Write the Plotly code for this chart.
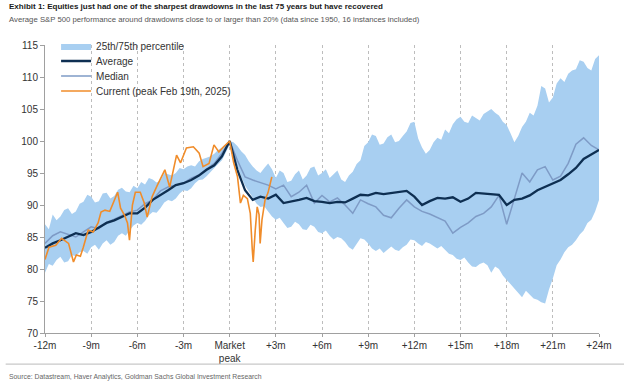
import plotly.graph_objects as go

# ---------------- data ----------------
months = [-12 + 0.5 * i for i in range(73)]          # half-month grid, -12m .. +24m
band_months = [-12 + 0.25 * i for i in range(145)]   # quarter-month grid for the band

band_upper = [
    87.0, 86.2, 88.5, 87.6,   # -12
    88.2, 89.2, 89.5, 88.6,   # -11
    89.0, 90.2, 90.5, 91.6,   # -10
    91.3, 90.4, 90.6, 91.8,   # -9
    91.9, 91.0, 91.4, 92.4,   # -8
    92.7, 92.1, 92.0, 93.0,   # -7
    92.6, 93.6, 93.2, 94.2,   # -6
    94.0, 93.5, 93.8, 95.0,   # -5
    94.8, 94.6, 95.0, 95.8,   # -4
    95.6, 96.0, 96.2, 96.0,   # -3
    96.8, 97.2, 97.4, 97.6,   # -2
    98.0, 98.6, 99.0, 99.5,   # -1
    100.0, 99.8, 99.2, 98.4,  # 0
    97.8, 96.8, 96.0, 95.4,   # 1
    95.0, 95.8, 96.5, 95.6,   # 2
    94.2, 95.4, 95.0, 93.6,   # 3
    93.8, 94.8, 95.4, 94.0,   # 4
    94.6, 95.8, 96.0, 94.6,   # 5
    95.0, 95.6, 94.2, 94.8,   # 6
    95.4, 94.0, 93.6, 94.6,   # 7
    95.2, 96.4, 97.0, 99.2,   # 8
    99.8, 101.0, 100.8, 99.4, # 9
    99.6, 100.6, 101.0, 99.8, # 10
    100.0, 100.8, 101.5, 102.8,  # 11
    103.0, 100.4, 99.0, 98.0,    # 12
    98.6, 99.8, 100.5, 100.2,    # 13
    101.8, 101.2, 102.6, 103.4,  # 14
    103.8, 103.0, 102.8, 104.0,  # 15
    103.6, 103.2, 104.2, 104.6,  # 16
    105.0, 104.4, 104.0, 103.0,  # 17
    102.5, 101.2, 99.8, 100.8,   # 18
    102.2, 103.0, 104.4, 104.0,  # 19
    105.5, 108.6, 108.2, 106.0,  # 20
    106.8, 109.0, 109.8, 109.2,  # 21
    110.5, 111.0, 111.2, 112.6,  # 22
    112.4, 111.4, 111.0, 112.8,  # 23
    113.4,                       # 24
]

band_lower = [
    79.4, 80.8, 80.5, 81.4,   # -12
    81.9, 81.0, 81.2, 82.2,   # -11
    82.0, 82.6, 82.8, 82.4,   # -10
    83.4, 83.8, 83.0, 84.0,   # -9
    84.5, 83.8, 84.2, 85.2,   # -8
    85.6, 85.2, 86.0, 86.8,   # -7
    87.2, 86.9, 87.5, 88.4,   # -6
    88.9, 88.8, 89.5, 90.4,   # -5
    90.8, 90.6, 91.0, 91.8,   # -4
    92.3, 92.2, 92.6, 93.4,   # -3
    93.9, 94.0, 94.5, 95.2,   # -2
    95.8, 96.4, 97.0, 98.2,   # -1
    99.5, 97.8, 96.0, 94.4,   # 0
    93.0, 92.0, 91.0, 90.2,   # 1
    89.7, 89.8, 89.0, 88.2,   # 2
    87.7, 88.0, 87.2, 86.4,   # 3
    86.6, 87.4, 87.0, 86.2,   # 4
    86.1, 86.9, 86.6, 85.8,   # 5
    85.6, 86.0, 85.2, 84.6,   # 6
    85.0, 84.8, 84.2, 83.4,   # 7
    83.0, 84.0, 84.8, 84.6,   # 8
    84.0, 83.2, 82.8, 83.2,   # 9
    82.5, 83.0, 83.5, 83.0,   # 10
    82.8, 83.4, 83.8, 84.6,   # 11
    84.5, 84.0, 83.6, 84.2,   # 12
    84.0, 83.6, 83.2, 83.6,   # 13
    83.0, 82.4, 82.2, 81.6,   # 14
    81.4, 81.8, 81.0, 80.4,   # 15
    80.3, 80.8, 81.0, 80.6,   # 16
    79.4, 80.4, 80.0, 79.0,   # 17
    78.3, 77.6, 77.0, 76.2,   # 18
    75.6, 76.6, 76.0, 75.4,   # 19
    75.2, 74.8, 74.6, 76.8,   # 20
    78.5, 80.6, 81.5, 82.6,   # 21
    83.4, 83.8, 84.5, 85.4,   # 22
    86.0, 87.2, 87.7, 89.0,   # 23
    90.8,                     # 24
]

average = [83.3, 84.0, 84.5, 85.0, 85.6, 85.3, 85.8, 86.5, 87.2, 87.6, 88.1, 88.7,
           88.7, 89.6, 90.8, 91.5, 92.3, 93.1, 93.4, 93.9, 94.6, 95.5, 96.2, 97.6,
           100.0, 95.5, 92.3, 90.8, 91.3, 91.0, 91.6, 90.3, 90.5, 90.8, 91.1, 90.6,
           90.5, 90.3, 90.5, 90.4, 91.0, 91.6, 91.5, 91.9, 91.7, 91.9, 92.0, 92.2,
           91.3, 90.0, 90.6, 91.1, 91.0, 91.2, 90.5, 91.0, 91.9, 91.8, 91.7, 91.6,
           90.0, 90.8, 91.0, 91.5, 92.3, 92.8, 93.3, 93.9, 94.8, 95.8, 97.2, 97.9,
           98.6]

median = [84.0, 85.2, 85.8, 85.4, 85.0, 85.8, 86.6, 86.3, 87.3, 87.8, 88.4, 88.9,
          89.2, 90.2, 90.8, 92.2, 92.8, 93.1, 93.4, 94.2, 94.7, 95.6, 96.5, 98.1,
          100.0, 97.0, 94.4, 93.9, 93.5, 93.1, 92.5, 93.1, 91.3, 92.0, 93.1, 90.3,
          91.5, 90.5, 91.1, 90.0, 88.7, 90.8, 90.2, 89.7, 88.4, 88.0, 89.5, 90.8,
          89.7, 89.0, 88.6, 88.0, 87.5, 85.6, 86.5, 87.2, 88.2, 88.7, 89.7, 91.5,
          87.0, 91.0, 95.0, 93.6, 95.5, 96.0, 93.9, 94.5, 96.5, 99.5, 100.5, 99.3,
          98.6]

current_months = [-12.0, -11.74, -11.3, -10.92, -10.47, -10.28, -10.15, -9.96, -9.7, -9.51,
                  -9.19, -8.87, -8.55, -8.36, -8.1, -7.79, -7.47, -7.28, -7.09, -6.83,
                  -6.64, -6.51, -6.32, -6.13, -5.81, -5.55, -5.36, -5.04, -4.72, -4.4,
                  -4.21, -3.9, -3.7, -3.45, -3.19, -2.81, -2.36, -1.98, -1.73, -1.34,
                  -1.02, -0.7, -0.39, 0.0, 0.26, 0.51, 0.7, 0.89, 1.15, 1.34,
                  1.47, 1.53, 1.66, 1.79, 1.91, 1.98, 2.1, 2.3, 2.49, 2.74]
current = [81.5, 83.4, 83.7, 84.8, 84.0, 82.5, 81.1, 82.2, 82.0, 83.4,
           86.1, 85.8, 87.2, 88.9, 89.2, 89.0, 90.8, 92.0, 89.5, 88.4,
           87.2, 84.5, 90.0, 92.0, 92.0, 90.3, 88.1, 91.3, 93.0, 94.7,
           95.5, 92.8, 95.0, 97.8, 96.6, 98.9, 99.1, 98.1, 96.0, 96.5,
           99.4, 98.3, 99.1, 100.0, 96.6, 94.4, 90.3, 91.5, 91.0, 88.7,
           83.0, 81.1, 86.0, 89.7, 88.5, 84.0, 87.7, 90.8, 91.9, 94.4]

tick_vals = [-12, -9, -6, -3, 0, 3, 6, 9, 12, 15, 18, 21, 24]
tick_text = ["-12m", "-9m", "-6m", "-3m", "Market<br>peak", "+3m", "+6m", "+9m",
             "+12m", "+15m", "+18m", "+21m", "+24m"]

# ---------------- figure ----------------
BAND = "#A8CFF1"
AVG = "#0E2F52"
MED = "#7E9BC6"
CUR = "#F08C2A"

fig = go.Figure()
fig.add_trace(go.Scatter(x=band_months, y=band_lower, mode="lines",
                         line=dict(width=0, color=BAND), showlegend=False, hoverinfo="skip"))
fig.add_trace(go.Scatter(x=band_months, y=band_upper, mode="lines",
                         line=dict(width=0, color=BAND), fill="tonexty", fillcolor=BAND,
                         name="25th/75th percentile", legend="legend"))
fig.add_trace(go.Scatter(x=months, y=median, mode="lines", line=dict(width=1.5, color=MED),
                         name="Median", legend="legend3"))
fig.add_trace(go.Scatter(x=months, y=average, mode="lines", line=dict(width=2.3, color=AVG),
                         name="Average", legend="legend2"))
fig.add_trace(go.Scatter(x=current_months, y=current, mode="lines",
                         line=dict(width=1.6, color=CUR),
                         name="Current (peak Feb 19th, 2025)", legend="legend4"))

TEXTFONT = "Liberation Sans, Arial, sans-serif"


def leg(ypos):
    return dict(x=0.02, y=ypos, xanchor="left", yanchor="middle",
                bgcolor="rgba(0,0,0,0)", font=dict(size=10, color="#333333"),
                itemwidth=30, traceorder="normal")


fig.update_layout(
    width=624, height=384,
    margin=dict(l=45, r=13, t=45, b=51),
    paper_bgcolor="white", plot_bgcolor="white",
    font=dict(family=TEXTFONT, size=10, color="#333333"),
    showlegend=True,
    legend=leg(0.9965),
    legend2=leg(0.9444),
    legend3=leg(0.8924),
    legend4=leg(0.8403),
    xaxis=dict(range=[-12, 24], tickvals=tick_vals, ticktext=tick_text,
               showline=True, linecolor="#A0A0A0", linewidth=1,
               ticks="outside", ticklen=3, tickcolor="#A0A0A0",
               showgrid=True, gridcolor="#BDBDBD", griddash="dot", gridwidth=1,
               zeroline=False, tickfont=dict(size=10, color="#333333")),
    yaxis=dict(range=[70, 115], dtick=5, showline=True, linecolor="#A0A0A0", linewidth=1,
               ticks="outside", ticklen=4, tickcolor="#A0A0A0",
               showgrid=False, zeroline=False, tickfont=dict(size=10, color="#333333")),
    annotations=[
        dict(text="<b>Exhibit 1: Equities just had one of the sharpest drawdowns in the last 75 years but have recovered</b>",
             xref="paper", yref="paper", x=-0.069, y=1.132, xanchor="left", yanchor="middle",
             showarrow=False, font=dict(size=8.0, color="#1a1a1a")),
        dict(text="Average S&P 500 performance around drawdowns close to or larger than 20% (data since 1950, 16 instances included)",
             xref="paper", yref="paper", x=-0.069, y=1.090, xanchor="left", yanchor="middle",
             showarrow=False, font=dict(size=7.75, color="#555555")),
        dict(text="Source: Datastream, Haver Analytics, Goldman Sachs Global Investment Research",
             xref="paper", yref="paper", x=-0.069, y=-0.153, xanchor="left", yanchor="middle",
             showarrow=False, font=dict(size=6.85, color="#666666")),
    ],
    shapes=[
        dict(type="line", xref="paper", yref="paper", x0=-0.071, x1=1.07, y0=-0.108, y1=-0.108,
             line=dict(color="#BBBBBB", width=1)),
    ],
)

fig.write_html("out.html", config={"displayModeBar": False},
               post_script="document.body.style.margin='0';document.body.style.overflow='hidden';")
